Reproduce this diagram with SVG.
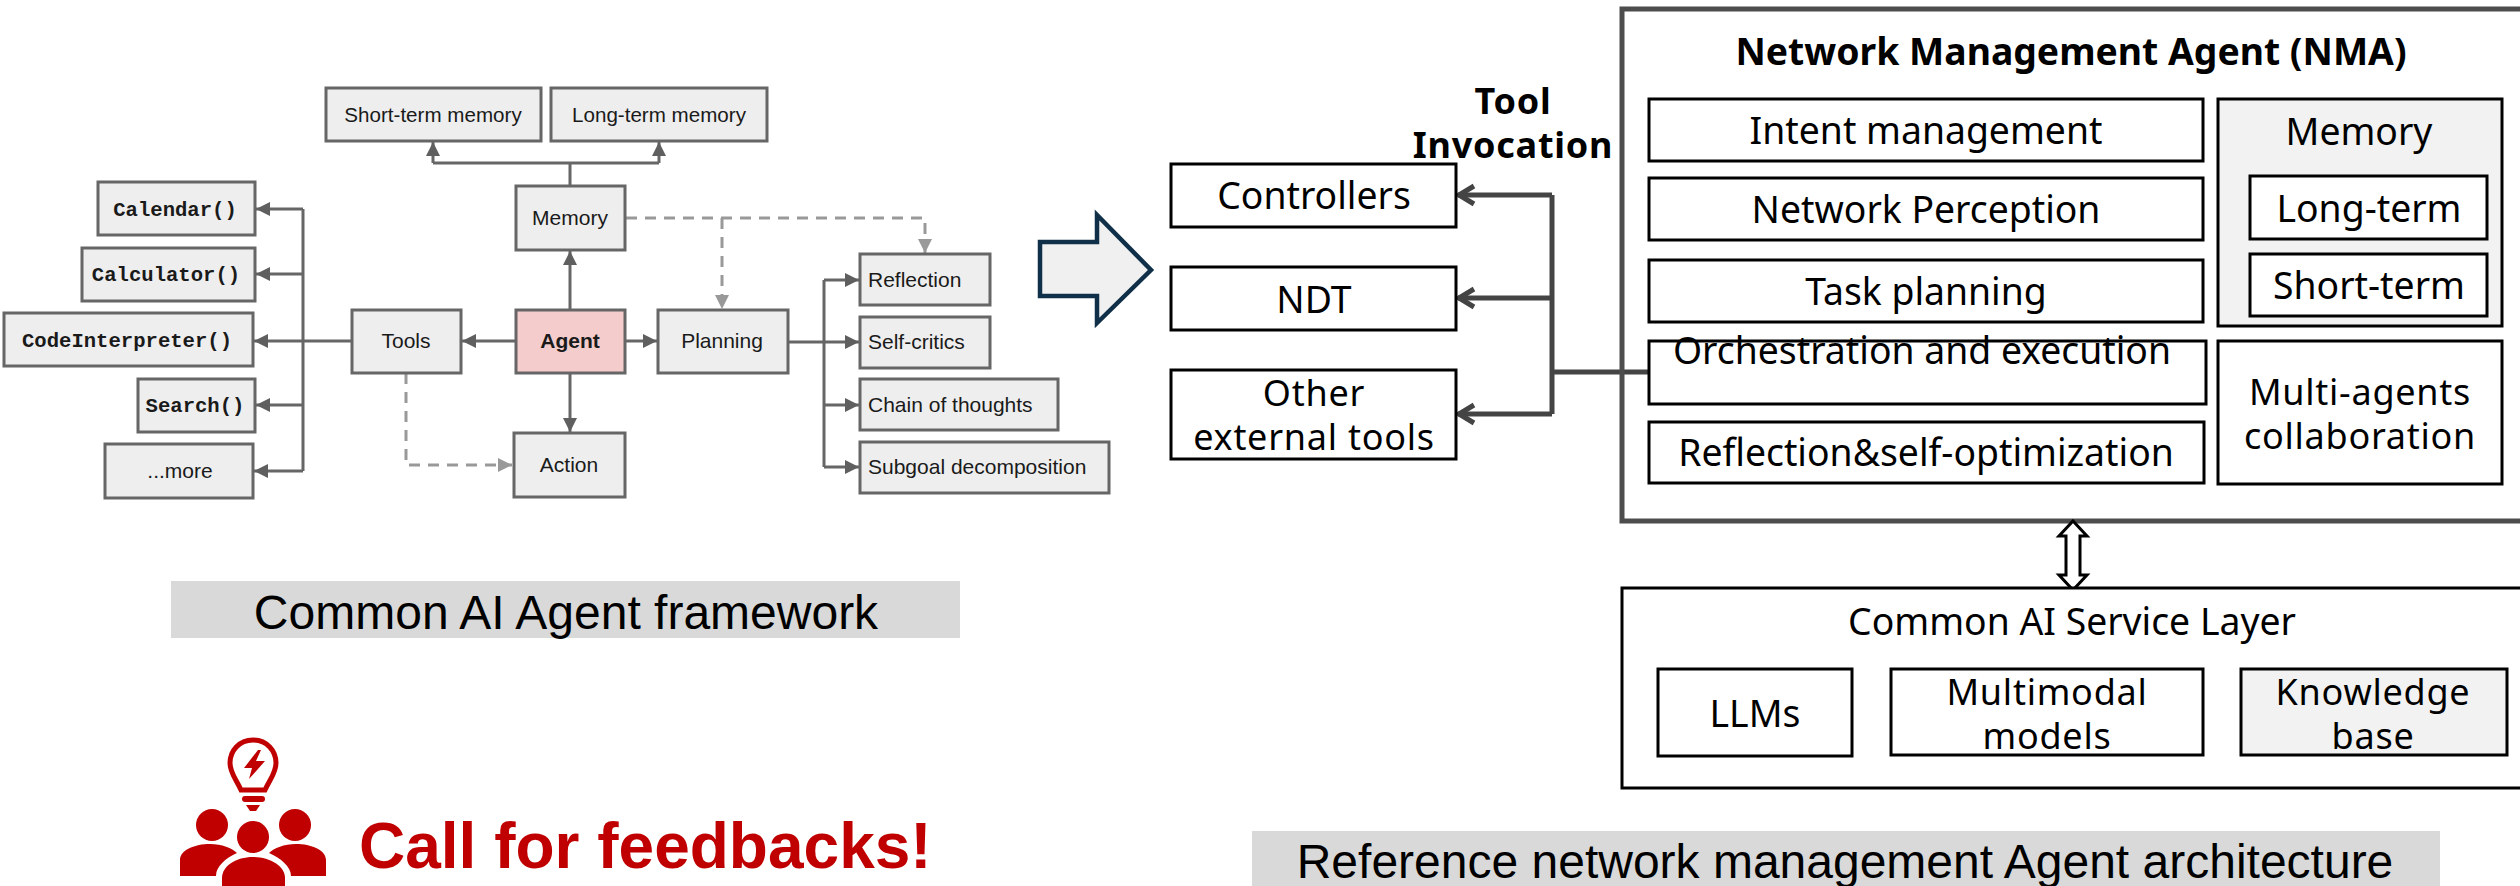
<svg xmlns="http://www.w3.org/2000/svg" width="2520" height="886" viewBox="0 0 2520 886">
<style>
.l rect{fill:#eeeeee;stroke:#666666;stroke-width:3}
.l text{font-family:"Liberation Sans",Arial,sans-serif;font-size:21px;fill:#1a1a1a;text-anchor:middle}
.l text.m{font-family:"Liberation Mono",monospace;font-weight:bold;font-size:20.6px}
.l text.s{text-anchor:start}
.l text.n{font-size:20.6px}
.r rect{fill:#ffffff;stroke:#000000;stroke-width:3}
.r rect.g{fill:#f2f2f2}
.r text{font-family:"Noto Sans",sans-serif;font-size:37.33px;fill:#000000;text-anchor:middle}
.r text.w{font-size:36px;letter-spacing:0.75px}
.cap{font-family:"Liberation Sans",Arial,sans-serif;font-size:48px;fill:#000;text-anchor:middle}
.c{fill:none;stroke:#666666;stroke-width:3}
.d{fill:none;stroke:#999999;stroke-width:3;stroke-dasharray:11 8}
.t{fill:none;stroke:#444444;stroke-width:5}
</style>
<defs>
<marker id="a" markerUnits="userSpaceOnUse" markerWidth="15" markerHeight="14" refX="14" refY="7" orient="auto"><path d="M0 0L14 7L0 14Z" fill="#5f5f5f"/></marker>
<marker id="ad" markerUnits="userSpaceOnUse" markerWidth="15" markerHeight="14" refX="14" refY="7" orient="auto"><path d="M0 0L14 7L0 14Z" fill="#999999"/></marker>
<marker id="o" markerUnits="userSpaceOnUse" markerWidth="22" markerHeight="24" refX="19" refY="12" orient="auto"><path d="M3 3L18 12L3 21" fill="none" stroke="#444444" stroke-width="5"/></marker>
</defs>
<rect width="2520" height="886" fill="#ffffff"/>

<g id="connectors">
<path class="c" d="M570 186V163M433 163H659M433 163V142" marker-end="url(#a)"/>
<path class="c" d="M659 163V142" marker-end="url(#a)"/>
<path class="c" d="M570 310V251" marker-end="url(#a)"/>
<path class="c" d="M570 373V432" marker-end="url(#a)"/>
<path class="c" d="M516 341H462" marker-end="url(#a)"/>
<path class="c" d="M625 341H657" marker-end="url(#a)"/>
<path class="c" d="M352 341H303"/>
<path class="c" d="M303 209V471"/>
<path class="c" d="M303 209H256" marker-end="url(#a)"/>
<path class="c" d="M303 274H256" marker-end="url(#a)"/>
<path class="c" d="M303 341H254" marker-end="url(#a)"/>
<path class="c" d="M303 405H256" marker-end="url(#a)"/>
<path class="c" d="M303 471H254" marker-end="url(#a)"/>
<path class="c" d="M788 342H859" marker-end="url(#a)"/>
<path class="c" d="M824 280V467"/>
<path class="c" d="M824 280H859" marker-end="url(#a)"/>
<path class="c" d="M824 405H859" marker-end="url(#a)"/>
<path class="c" d="M824 467H859" marker-end="url(#a)"/>
<path class="d" d="M406 373V465H512" marker-end="url(#ad)"/>
<path class="d" d="M626 218H925V253" marker-end="url(#ad)"/>
<path class="d" d="M722 218V309" marker-end="url(#ad)"/>
<path class="t" d="M1650 372H1552"/>
<path class="t" d="M1552 195V414"/>
<path class="t" d="M1552 195H1458" marker-end="url(#o)"/>
<path class="t" d="M1552 298H1458" marker-end="url(#o)"/>
<path class="t" d="M1552 414H1458" marker-end="url(#o)"/>
</g>

<g class="l">
<g id="short-term-memory"><rect x="326" y="88" width="215" height="53"/><text class="n" x="433" y="122">Short-term memory</text></g>
<g id="long-term-memory"><rect x="551" y="88" width="216" height="53"/><text class="n" x="659" y="122">Long-term memory</text></g>
<g id="calendar"><rect x="98" y="182" width="157" height="53"/><text class="m" x="175" y="216">Calendar()</text></g>
<g id="calculator"><rect x="82" y="248" width="173" height="53"/><text class="m" x="166" y="281">Calculator()</text></g>
<g id="code-interpreter"><rect x="4" y="313" width="249" height="53"/><text class="m" x="127" y="347">CodeInterpreter()</text></g>
<g id="search"><rect x="138" y="379" width="117" height="53"/><text class="m" x="195" y="412">Search()</text></g>
<g id="more"><rect x="105" y="444" width="148" height="54"/><text x="180" y="478">...more</text></g>
<g id="tools"><rect x="352" y="310" width="109" height="63"/><text x="406" y="348">Tools</text></g>
<g id="memory"><rect x="516" y="186" width="109" height="64"/><text x="570" y="225">Memory</text></g>
<g id="agent"><rect x="516" y="310" width="109" height="63" style="fill:#f4cccc"/><text x="570" y="348" font-weight="bold">Agent</text></g>
<g id="action"><rect x="514" y="433" width="111" height="64"/><text x="569" y="472">Action</text></g>
<g id="planning"><rect x="658" y="310" width="130" height="63"/><text x="722" y="348">Planning</text></g>
<g id="reflection"><rect x="860" y="254" width="130" height="51"/><text class="s" x="868" y="287">Reflection</text></g>
<g id="self-critics"><rect x="860" y="317" width="130" height="51"/><text class="s" x="868" y="349">Self-critics</text></g>
<g id="chain-of-thoughts"><rect x="860" y="379" width="198" height="51"/><text class="s" x="868" y="412">Chain of thoughts</text></g>
<g id="subgoal"><rect x="860" y="442" width="249" height="51"/><text class="s" x="868" y="474">Subgoal decomposition</text></g>
</g>

<path id="transition-arrow" d="M1040 242H1097V215L1151 270L1097 323V296H1040Z" fill="#f0f0f0" stroke="#0f3048" stroke-width="4.5"/>

<g id="caption-left"><rect x="171" y="581" width="789" height="57" fill="#d9d9d9"/><text class="cap" x="566" y="629">Common AI Agent framework</text></g>

<g id="feedback-icon" fill="#c00000">
<path d="M253 740C239 740 230 751 230 763C230 773 236 779 241 790H265C270 779 276 773 276 763C276 751 267 740 253 740Z" fill="none" stroke="#c00000" stroke-width="5"/>
<path d="M258 750L244 768H252L249 779L265 761H256L261 750Z"/>
<rect x="242" y="796" width="23" height="6" rx="3"/>
<path d="M246 805H260L256 811H250Z"/>
<ellipse cx="212" cy="825" rx="16" ry="16"/>
<ellipse cx="295" cy="825" rx="16" ry="16"/>
<ellipse cx="253" cy="837" rx="16" ry="16"/>
<path d="M180 876V860C180 850 195 844 210 844C222 844 232 848 237 853C226 858 216 866 216 876Z"/>
<path d="M326 876V860C326 850 311 844 296 844C284 844 274 848 269 853C280 858 291 866 291 876Z"/>
<path d="M222 886V878C222 866 236 857 253 857C270 857 285 866 285 878V886Z"/>
</g>
<text id="feedback-text" x="359" y="868" font-family="'Liberation Sans',Arial,sans-serif" font-weight="bold" font-size="64" fill="#c00000">Call for feedbacks!</text>

<g class="r">
<g id="controllers"><rect x="1171" y="164" width="285" height="63"/><text x="1314" y="209">Controllers</text></g>
<g id="ndt"><rect x="1171" y="267" width="285" height="63"/><text x="1314" y="313">NDT</text></g>
<g id="other-tools"><rect x="1171" y="370" width="285" height="89"/><text class="w" x="1314" y="406">Other</text><text class="w" x="1314" y="450">external tools</text></g>
<g id="tool-invocation"><text class="w" style="font-weight:bold" x="1513" y="114">Tool</text>
<text class="w" style="font-weight:bold" x="1513" y="158">Invocation</text></g>

<g id="nma">
<rect x="1622" y="9" width="910" height="512" style="stroke:#4d4d4d;stroke-width:5;fill:none"/>
<text style="font-weight:bold" x="2071" y="65">Network Management Agent (NMA)</text>
</g>
<g id="intent"><rect x="1649" y="99" width="554" height="62"/><text x="1926" y="144">Intent management</text></g>
<g id="perception"><rect x="1649" y="178" width="554" height="62"/><text x="1926" y="223">Network Perception</text></g>
<g id="task-planning"><rect x="1649" y="260" width="554" height="62"/><text x="1926" y="305">Task planning</text></g>
<g id="orchestration"><rect x="1649" y="341" width="557" height="63"/><text x="1922" y="364">Orchestration and execution</text></g>
<g id="reflection-opt"><rect x="1649" y="422" width="555" height="61"/><text x="1926" y="466">Reflection&amp;self-optimization</text></g>
<g id="nma-memory"><rect class="g" x="2218" y="99" width="284" height="227"/><text x="2359" y="145">Memory</text></g>
<g id="long-term"><rect x="2250" y="176" width="237" height="63"/><text x="2369" y="222">Long-term</text></g>
<g id="short-term"><rect x="2250" y="254" width="237" height="62"/><text x="2369" y="299">Short-term</text></g>
<g id="multi-agents"><rect x="2218" y="341" width="284" height="143"/><text class="w" x="2360" y="405">Multi-agents</text><text class="w" x="2360" y="449">collaboration</text></g>
<path id="double-arrow" d="M2073 521L2087 536H2080V575H2087L2073 590L2059 575H2066V536H2059Z" fill="#fff" stroke="#000" stroke-width="3"/>
<g id="service-layer"><rect x="1622" y="588" width="910" height="200"/><text x="2072" y="635">Common AI Service Layer</text></g>
<g id="llms"><rect x="1658" y="669" width="194" height="87"/><text x="1755" y="727">LLMs</text></g>
<g id="multimodal"><rect x="1891" y="669" width="312" height="86"/><text class="w" x="2047" y="705">Multimodal</text><text class="w" x="2047" y="749">models</text></g>
<g id="knowledge"><rect class="g" x="2241" y="669" width="266" height="86"/><text class="w" x="2373" y="705">Knowledge</text><text class="w" x="2373" y="749">base</text></g>
</g>

<g id="caption-right"><rect x="1252" y="831" width="1188" height="55" fill="#d9d9d9"/><text class="cap" x="1845" y="878">Reference network management Agent architecture</text></g>
</svg>
